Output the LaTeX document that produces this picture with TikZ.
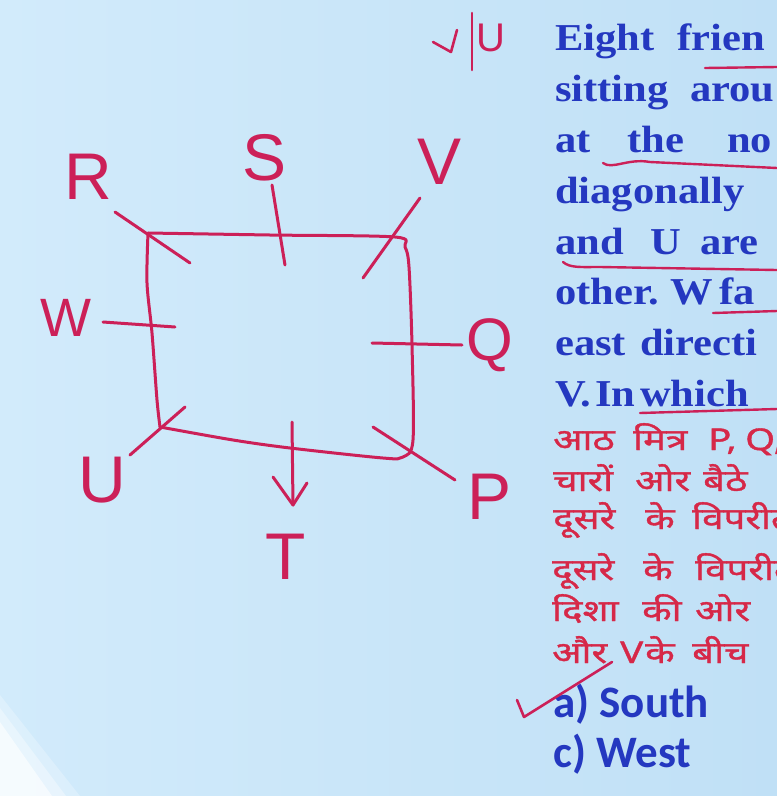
\documentclass[tikz,border=0pt]{standalone}
\usepackage{fontspec}
\setmainfont{Liberation Serif}
\newfontfamily\qfont[FakeStretch=1.12]{Liberation Serif}
\newfontfamily\hindi[Script=Devanagari,FakeStretch=1.28,FakeBold=1.2]{Noto Sans}
\newfontfamily\handf{Liberation Sans}
\newfontfamily\calib{Carlito}
\definecolor{bgblue}{RGB}{192,224,246}
\definecolor{bgblueL}{RGB}{210,235,251}
\definecolor{txtblue}{RGB}{36,56,192}
\definecolor{hindired}{RGB}{214,40,72}
\definecolor{pen}{RGB}{204,32,88}
\begin{document}
\begin{tikzpicture}[x=1pt,y=-1pt,
  penline/.style={draw=pen, line width=3pt, line cap=round, line join=round},
  uline/.style={draw=pen, line width=2.4pt, line cap=round},
  hand/.style={text=pen, font=\handf\fontsize{66}{66}\selectfont, inner sep=0pt},
  qtext/.style={text=txtblue, font=\qfont\bfseries\fontsize{38}{38}\selectfont, anchor=base west, inner sep=0pt},
  htext/.style={text=hindired, font=\hindi\fontsize{30}{30}\selectfont, anchor=base west, inner sep=0pt},
  opt/.style={text=txtblue, font=\calib\bfseries\fontsize{45}{45}\selectfont, anchor=base west, inner sep=0pt}]
\useasboundingbox (0,0) rectangle (777,796);
\clip (0,0) rectangle (777,796);
\shade[left color=bgblueL, right color=bgblue] (0,0) rectangle (777,796);
% white blur bottom-left
\fill[white, opacity=0.25] (0,695) -- (80,796) -- (0,796) -- cycle;
\fill[white, opacity=0.35] (0,708) -- (66,796) -- (0,796) -- cycle;
\fill[white, opacity=0.6] (0,722) -- (52,796) -- (0,796) -- cycle;

% ---------- diagram ----------
\draw[penline] plot[smooth, tension=0.5] coordinates {(148,233) (270,235) (395,237) (405,247) (409,267) (412,345) (413,440) (403,457) (383,458) (290,448) (233,440) (160,427)};
\draw[penline] plot[smooth, tension=0.5] coordinates {(160,427) (157,400) (152,333) (147,283) (148,233)};

% ticks
\coordinate (tRa) at (115,212); \coordinate (tRb) at (190,263);
\coordinate (tSa) at (272,185); \coordinate (tSb) at (285,265);
\coordinate (tVa) at (420,198); \coordinate (tVb) at (363,278);
\coordinate (tWa) at (103,322); \coordinate (tWb) at (175,327);
\coordinate (tQa) at (372,343); \coordinate (tQb) at (462,345);
\coordinate (tUa) at (185,407); \coordinate (tUb) at (130,455);
\coordinate (tTa) at (292,422); \coordinate (tTb) at (293,505);
\coordinate (tPa) at (373,427); \coordinate (tPb) at (455,480);
\coordinate (aL) at (273,477); \coordinate (aR) at (307,483);
\draw[penline] (tRa) -- (tRb);
\draw[penline] (tSa) -- (tSb);
\draw[penline] (tVa) -- (tVb);
\draw[penline] (tWa) -- (tWb);
\draw[penline] (tQa) -- (tQb);
\draw[penline] (tUa) -- (tUb);
\draw[penline] (tTa) -- (tTb);
\draw[penline] (aL) -- (tTb) -- (aR);
\draw[penline] (tPa) -- (tPb);

% labels
\node[hand] (lR) at (88,177) {R};
\node[hand] (lS) at (265,158) {S};
\node[hand] (lV) at (440,162) {V};
\node[hand, font=\handf\fontsize{54}{54}\selectfont] (lW) at (66,318) {W};
\node[hand, font=\handf\fontsize{60}{60}\selectfont] (lQ) at (490,345) {Q};
\node[hand] (lU) at (102,480) {U};
\node[hand] (lT) at (286,557) {T};
\node[hand] (lP) at (490,497) {P};

% top note
\coordinate (n1) at (433,42); \coordinate (n2) at (451,52); \coordinate (n3) at (457,30);
\coordinate (b1) at (472,13); \coordinate (b2) at (472,70);
\draw[penline, line width=2.6pt] (n1) -- (n2) -- (n3);
\draw[penline, line width=2.6pt] (b1) -- (b2);
\node[hand, font=\handf\fontsize{40}{40}\selectfont] (nU) at (491,38) {U};

% ---------- English question text ----------
\node[qtext] (e11) at (555,50) {Eight};
\node[qtext] (e12) at (677,50) {frien};
\node[qtext] (e21) at (555,101) {sitting};
\node[qtext] (e22) at (690,101) {arou};
\node[qtext] (e31) at (555,152) {at};
\node[qtext] (e32) at (627,152) {the};
\node[qtext] (e33) at (727,152) {no};
\node[qtext] (e41) at (555,203) {diagonally};
\node[qtext] (e51) at (555,254) {and};
\node[qtext] (e52) at (650,254) {U};
\node[qtext] (e53) at (700,254) {are};
\node[qtext] (e61) at (555,304) {other.};
\node[qtext] (e62) at (670,304) {W};
\node[qtext] (e63) at (719,304) {fa};
\node[qtext] (e71) at (555,355) {east};
\node[qtext] (e72) at (640,355) {directi};
\node[qtext] (e81) at (555,406) {V.};
\node[qtext] (e82) at (595,406) {In};
\node[qtext] (e83) at (640,406) {which};

% underlines
\draw[uline] (705,68) -- (777,67);
\draw[uline] (603,163) .. controls (612,170) and (628,158) .. (650,162) -- (777,168);
\draw[uline] (563,262) .. controls (570,268) and (580,267) .. (600,267) -- (777,270);
\draw[uline] (713,313) -- (777,311);
\draw[uline] (640,413) -- (777,409);

% ---------- Hindi text ----------
\node[htext] (h11) at (553,450) {आठ};
\node[htext] (h12) at (633,450) {मित्र};
\node[htext] (h13) at (708,450) {P,};
\node[htext] (h14) at (745,450) {Q,};
\node[htext] (h21) at (553,491) {चारों};
\node[htext] (h22) at (635,491) {ओर};
\node[htext] (h23) at (703,491) {बैठे};
\node[htext] (h31) at (553,529) {दूसरे};
\node[htext] (h32) at (645,529) {के};
\node[htext] (h33) at (692,529) {विपरीत};
\node[htext] (h41) at (552,580) {दूसरे};
\node[htext] (h42) at (643,580) {के};
\node[htext] (h43) at (695,580) {विपरीत};
\node[htext] (h51) at (552,621) {दिशा};
\node[htext] (h52) at (642,621) {की};
\node[htext] (h53) at (695,621) {ओर};
\node[htext] (h61) at (552,663) {और};
\node[htext] (h62) at (620,663) {V};
\node[htext] (h63) at (645,663) {के};
\node[htext] (h64) at (692,663) {बीच};

% ---------- options ----------
\node[opt] (oa) at (553,717) {a) South};
\node[opt] (oc) at (553,767) {c) West};
\coordinate (k1) at (517,700); \coordinate (k2) at (524,717); \coordinate (k3) at (612,662);
\draw[penline, line width=2.6pt] (k1) -- (k2) -- (k3);
\end{tikzpicture}
\end{document}
